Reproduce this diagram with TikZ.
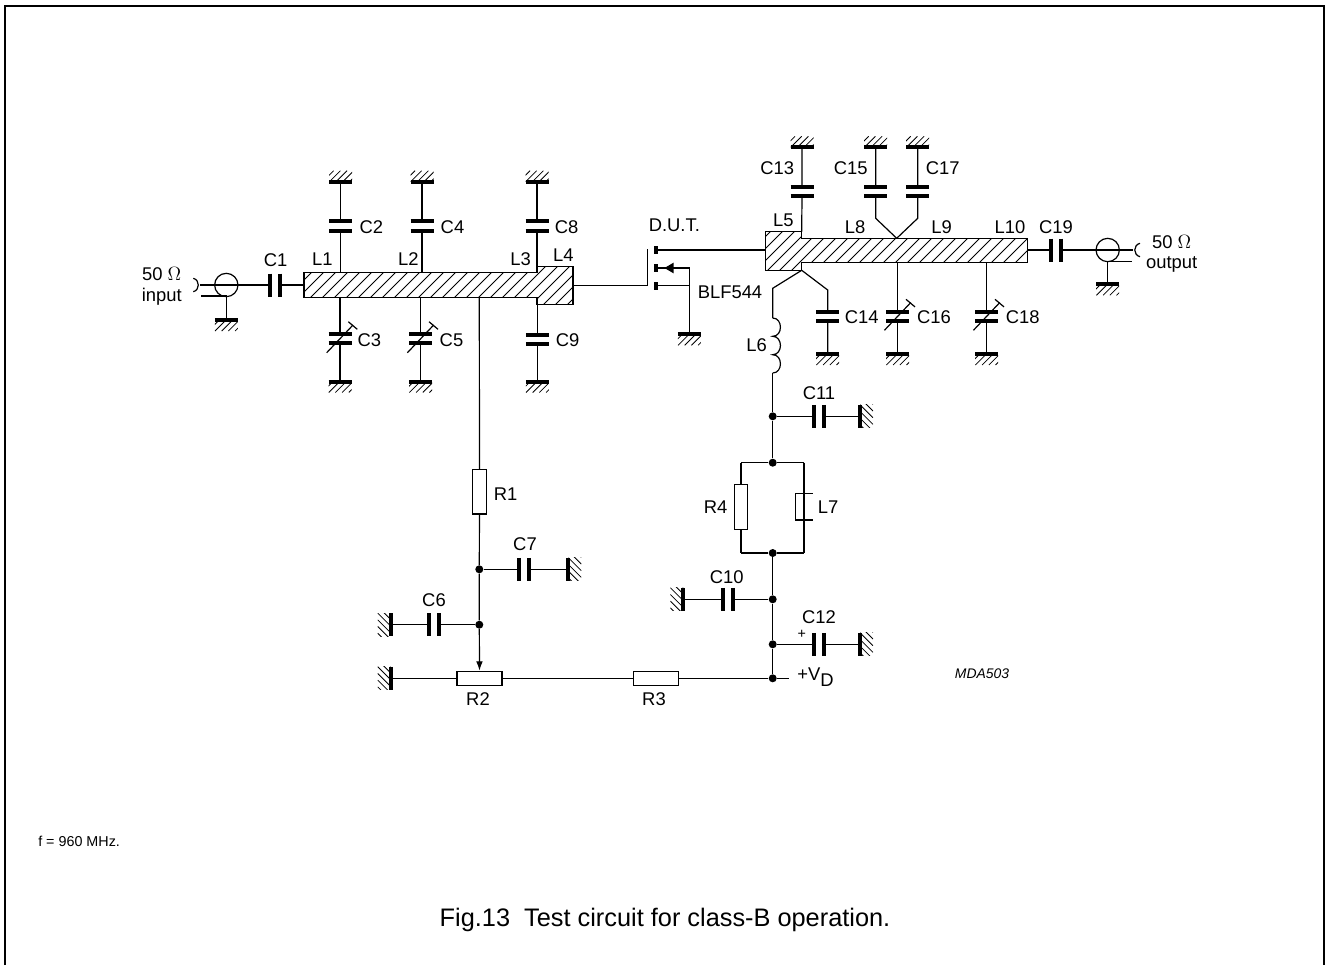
\documentclass[tikz,border=0pt]{standalone}
\usepackage{fontspec}
\setmainfont{Liberation Sans}
\usepackage{tikz}
\usetikzlibrary{arrows.meta}
\tikzset{
  wire/.style = {line width=.9pt},
  plate/.style = {line width=3pt},
  hatchline/.style = {line width=.6pt},
  dot/.style = {circle, fill, inner sep=0pt, minimum size=6pt},
  lbl/.style = {font=\fontsize{13.8}{15}\selectfont, inner sep=0pt},
  smalllbl/.style = {font=\fontsize{10.75}{13}\selectfont, inner sep=0pt}
}
% vertical capacitor: name, x, upper plate y, lower plate y
\newcommand{\capv}[4]{
  \coordinate (#1t) at (#2,#3);
  \coordinate (#1b) at (#2,#4);
  \draw[plate] (#2-11.5,#3) -- (#2+11.5,#3);
  \draw[plate] (#2-11.5,#4) -- (#2+11.5,#4);
}
% horizontal capacitor: name, y, left plate x, right plate x
\newcommand{\caph}[4]{
  \coordinate (#1l) at (#3,#2);
  \coordinate (#1r) at (#4,#2);
  \draw[plate] (#3,#2-11.5) -- (#3,#2+11.5);
  \draw[plate] (#4,#2-11.5) -- (#4,#2+11.5);
}
% trimmer mark over a vertical capacitor: x, y of its middle
\newcommand{\trim}[2]{
  \draw[wire] (#1-13.3,#2+14) -- (#1+13,#2-13.7);
  \draw[wire] (#1+8.3,#2-17) -- (#1+17.3,#2-9.4);
}
% earth symbols: name, x, y of the plate
\newcommand{\gndd}[3]{
  \coordinate (#1) at (#2,#3);
  \begin{scope}
    \clip (#2-11.5,#3) rectangle (#2+11.5,#3+11);
    \foreach \s in {-18,-11.3,...,12} \draw[hatchline] (#2+\s,#3+11) -- (#2+\s+11,#3);
  \end{scope}
  \draw[plate] (#2-11.5,#3) -- (#2+11.5,#3);
}
\newcommand{\gndu}[3]{
  \coordinate (#1) at (#2,#3);
  \begin{scope}
    \clip (#2-11.5,#3-11) rectangle (#2+11.5,#3);
    \foreach \s in {-18,-11.3,...,12} \draw[hatchline] (#2+\s,#3) -- (#2+\s+11,#3-11);
  \end{scope}
  \draw[plate] (#2-11.5,#3) -- (#2+11.5,#3);
}
\newcommand{\gndr}[3]{
  \coordinate (#1) at (#2,#3);
  \begin{scope}
    \clip (#2,#3-11.5) rectangle (#2+13,#3+11.5);
    \foreach \s in {-25,-18.3,...,12} \draw[hatchline] (#2,#3+\s) -- (#2+13,#3+\s+13);
  \end{scope}
  \draw[plate] (#2,#3-11.5) -- (#2,#3+11.5);
}
\newcommand{\gndl}[3]{
  \coordinate (#1) at (#2,#3);
  \begin{scope}
    \clip (#2-13,#3-11.5) rectangle (#2,#3+11.5);
    \foreach \s in {-25,-18.3,...,12} \draw[hatchline] (#2-13,#3+\s) -- (#2,#3+\s+13);
  \end{scope}
  \draw[plate] (#2,#3-11.5) -- (#2,#3+11.5);
}

\begin{document}
\begin{tikzpicture}[x=.75pt,y=-.75pt]
  \useasboundingbox (0,0) rectangle (1328,965);

  % frame
  \draw[line width=1.5pt] (5,965) -- (5,5.5) -- (1324,5.5) -- (1324,965);

  % input strip
  \begin{scope}
    \clip (304,272.7) -- (537,272.7) -- (537,266.7) -- (573,266.7) -- (573,304.7) -- (537,304.7) -- (537,297.7) -- (304,297.7) -- cycle;
    \foreach \s in {250,262,...,570} \draw[hatchline] (\s,310) -- (\s+50,260);
  \end{scope}
  \draw[wire] (304,272.7) -- (537,272.7) -- (537,266.7) -- (573,266.7) -- (573,304.7) -- (537,304.7) -- (537,297.7) -- (304,297.7) -- cycle;

  % output strip
  \begin{scope}
    \clip (765.3,231.7) -- (801.7,231.7) -- (801.7,238.3) -- (1027.3,238.3) -- (1027.3,262.7) -- (801.7,262.7) -- (801.7,270.3) -- (765.3,270.3) -- cycle;
    \foreach \s in {710,722,...,1030} \draw[hatchline] (\s,280) -- (\s+50,230);
  \end{scope}
  \draw[wire] (765.3,231.7) -- (801.7,231.7) -- (801.7,238.3) -- (1027.3,238.3) -- (1027.3,262.7) -- (801.7,262.7) -- (801.7,270.3) -- (765.3,270.3) -- cycle;

  % points on the strips
  \coordinate (s1t) at (340.7,272.7);
  \coordinate (s2t) at (422,272.7);
  \coordinate (s3t) at (537,266.7);
  \coordinate (s1b) at (340,297.7);
  \coordinate (s2b) at (420.7,297.7);
  \coordinate (s3b) at (479.3,297.7);
  \coordinate (s4b) at (537.3,304.7);
  \coordinate (s4r) at (573,285.7);
  \coordinate (s1l) at (304,285);
  \coordinate (s5l) at (765.3,250);
  \coordinate (s5t) at (801.7,231.7);
  \coordinate (s5b) at (801.7,270.3);
  \coordinate (s8t) at (896.7,238.3);
  \coordinate (s8b) at (897.7,262.7);
  \coordinate (s9b) at (986.7,262.7);
  \coordinate (s10r) at (1027.3,250);

  % input side
  \coordinate (conin) at (200,285);
  \node[draw, circle, wire, inner sep=0pt, minimum size=17.5pt] (cin) at (226.3,285) {};
  \coordinate (conin2) at (201,296);
  \coordinate (cin2) at (226.3,296);
  \draw[wire] (193.3,278.3) .. controls (200,280) and (200,290) .. (193.3,291.7);
  \gndd{gin}{226.3}{320}
  \caph{C1}{285}{270.3}{280}
  \draw[wire] (conin) -- (C1l);
  \draw[wire] (conin2) -- (cin2) -- (gin);
  \draw[wire] (C1r) -- (s1l);

  \capv{C2}{340.7}{221.3}{230.7}
  \gndu{g2}{340.7}{181.7}
  \draw[wire] (s1t) -- (C2b) (C2t) -- (g2);
  \capv{C4}{422}{221.3}{230.7}
  \gndu{g4}{422}{181.7}
  \draw[wire] (s2t) -- (C4b) (C4t) -- (g4);
  \capv{C8}{537}{221.3}{230.7}
  \gndu{g8}{537}{181.7}
  \draw[wire] (s3t) -- (C8b) (C8t) -- (g8);
  \capv{C3}{340}{334}{343.3}
  \trim{340}{338.7}
  \gndd{g3}{340}{381.5}
  \draw[wire] (s1b) -- (C3t) (C3b) -- (g3);
  \capv{C5}{420.7}{334}{343.3}
  \trim{420.7}{338.7}
  \gndd{g5}{420.7}{381.5}
  \draw[wire] (s2b) -- (C5t) (C5b) -- (g5);
  \capv{C9}{537.3}{334.5}{343.8}
  \gndd{g9}{537.3}{381.5}
  \draw[wire] (s4b) -- (C9t) (C9b) -- (g9);

  % gate bias
  \node[draw, wire, fill=white, minimum width=10.5pt, minimum height=33.4pt, inner sep=0pt] (R1) at (479.5,491.7) {};
  \node[dot] (n7) at (479.3,569.3) {};
  \node[dot] (n6) at (479.3,624.7) {};
  \node[draw, wire, fill=white, minimum width=33.7pt, minimum height=10.5pt, inner sep=0pt] (R2) at (479.5,678.3) {};
  \node[draw, wire, fill=white, minimum width=34pt, minimum height=10.5pt, inner sep=0pt] (R3) at (656,678.3) {};
  \draw[wire] (s3b) -- (R1) (R1) -- (n7) -- (n6);
  \draw[wire, -{Latex[length=7pt,width=5pt]}] (n6) -- (R2.north);
  \caph{C7}{569.3}{519.3}{529}
  \gndr{g7}{568.3}{569.3}
  \draw[wire] (n7) -- (C7l) (C7r) -- (g7);
  \caph{C6}{624.7}{429.3}{439}
  \gndl{g6}{390.7}{624.7}
  \draw[wire] (g6) -- (C6l) (C6r) -- (n6);
  \gndl{g2r}{390.7}{678.3}
  \draw[wire] (g2r) -- (R2) (R2) -- (R3);

  % transistor
  \coordinate (gate) at (647.3,285.7);
  \coordinate (gatet) at (647.3,249.3);
  \coordinate (chd) at (656,250);
  \coordinate (chm) at (656,268);
  \coordinate (chs) at (656,285.7);
  \coordinate (srcm) at (689.3,268);
  \coordinate (srcb) at (689.3,285.7);
  \draw[plate] (656,246) -- (656,254);
  \draw[plate] (656,264) -- (656,272);
  \draw[plate] (656,282) -- (656,290);
  \gndd{gfet}{689.3}{334.3}
  \draw[wire] (s4r) -- (gate) -- (gatet);
  \draw[wire] (chd) -- (s5l);
  \draw[wire] (chs) -- (srcb);
  \draw[wire] (chm) -- (srcm) -- (gfet);
  \fill (664.5,268) -- (673.5,262.7) -- (673.5,273.3) -- cycle;

  % output side
  \capv{C13}{802}{186.7}{195.7}
  \gndu{g13}{802}{147.3}
  \draw[wire] (s5t) -- (C13b) (C13t) -- (g13);
  \capv{C15}{875.7}{186.7}{195.7}
  \gndu{g15}{875.7}{147.3}
  \coordinate (b15) at (875.7,218.3);
  \draw[wire] (s8t) -- (b15) -- (C15b) (C15t) -- (g15);
  \capv{C17}{917.7}{186.7}{195.7}
  \gndu{g17}{917.7}{147.3}
  \coordinate (b17) at (917.7,218.3);
  \draw[wire] (s8t) -- (b17) -- (C17b) (C17t) -- (g17);
  \capv{C14}{827.7}{311.7}{321}
  \gndd{g14}{827.7}{354}
  \coordinate (b14) at (827.7,290);
  \draw[wire] (s5b) -- (b14) -- (C14t) (C14b) -- (g14);
  \capv{C16}{897.7}{311.7}{321}
  \trim{897.7}{316.3}
  \gndd{g16}{897.7}{354}
  \draw[wire] (s8b) -- (C16t) (C16b) -- (g16);
  \capv{C18}{986.7}{311.7}{321}
  \trim{986.7}{316.3}
  \gndd{g18}{986.7}{354}
  \draw[wire] (s9b) -- (C18t) (C18b) -- (g18);
  \caph{C19}{250}{1051.3}{1061}
  \node[draw, circle, wire, inner sep=0pt, minimum size=17.5pt] (cout) at (1107.7,250) {};
  \coordinate (conout) at (1133,250);
  \coordinate (conout2) at (1131.7,261.7);
  \coordinate (cout2) at (1107.7,261.7);
  \gndd{gout}{1107.7}{284.3}
  \draw[wire] (s10r) -- (C19l) (C19r) -- (conout);
  \draw[wire] (conout2) -- (cout2) -- (gout);
  \draw[wire] (1140,243.3) .. controls (1133,245) and (1133,255) .. (1140,256.7);

  % drain supply
  \coordinate (b6) at (772.7,288.3);
  \coordinate (l6t) at (772.7,318);
  \coordinate (l6b) at (772.7,373);
  \draw[wire] (s5b) -- (b6) -- (l6t);
  \draw[wire] (l6t) .. controls (783,318) and (783,336.3) .. (772.7,336.3)
    .. controls (783,336.3) and (783,354.7) .. (772.7,354.7)
    .. controls (783,354.7) and (783,373) .. (l6b);
  \node[dot] (n11) at (772.7,416.3) {};
  \node[dot] (ntop) at (772.7,462.7) {};
  \node[dot] (nbot) at (772.7,553) {};
  \node[dot] (n10) at (772.7,599.3) {};
  \node[dot] (n12) at (772.7,644.3) {};
  \node[dot] (nvd) at (772.7,678.3) {};
  \draw[wire] (l6b) -- (n11) -- (ntop);
  \draw[wire] (nbot) -- (n10) -- (n12) -- (nvd);
  \coordinate (vd) at (789.3,678.3);
  \draw[wire] (R3) -- (nvd) -- (vd);
  \caph{C11}{416.3}{814.3}{824}
  \gndr{g11}{860}{416.3}
  \draw[wire] (n11) -- (C11l) (C11r) -- (g11);
  \caph{C10}{599.3}{722.7}{732.5}
  \gndl{g10}{683.3}{599.3}
  \draw[wire] (g10) -- (C10l) (C10r) -- (n10);
  \caph{C12}{644.3}{814.3}{824}
  \gndr{g12}{860}{644.3}
  \draw[wire] (n12) -- (C12l) (C12r) -- (g12);

  % parallel branch
  \coordinate (ptl) at (741,462.7);
  \coordinate (ptr) at (804,462.7);
  \coordinate (pbl) at (741,553);
  \coordinate (pbr) at (804,553);
  \draw[wire] (ntop) -- (ptl) (ntop) -- (ptr) (nbot) -- (pbl) (nbot) -- (pbr);
  \node[draw, wire, fill=white, minimum width=10.3pt, minimum height=33.6pt, inner sep=0pt] (R4) at (741,506.7) {};
  \draw[wire] (ptl) -- (R4) (R4) -- (pbl);
  \draw[wire] (ptr) -- (pbr);
  \draw[wire] (812.7,493.3) -- (795.3,493.3) -- (795.3,520) -- (812.7,520);

  % labels
  \node[lbl] (in1) at (161.7,274) {50 $\Omega$};
  \node[lbl] (in2) at (161.7,297) {input};
  \node[lbl] (out1) at (1171.7,241.7) {50 $\Omega$};
  \node[lbl] (out2) at (1171.7,264.3) {output};
  \node[lbl] (lC1) at (275.7,260) {C1};
  \node[lbl] (lL1) at (322.3,259.3) {L1};
  \node[lbl] (lL2) at (408.3,259.3) {L2};
  \node[lbl] (lL3) at (520.7,259.3) {L3};
  \node[lbl] (lL4) at (563.3,255) {L4};
  \node[lbl] (lC2) at (371.3,226.7) {C2};
  \node[lbl] (lC4) at (452.5,226.7) {C4};
  \node[lbl] (lC8) at (566.7,226.7) {C8};
  \node[lbl] (lC3) at (369.3,340.3) {C3};
  \node[lbl] (lC5) at (451.5,340.3) {C5};
  \node[lbl] (lC9) at (567.7,340.3) {C9};
  \node[lbl] (lDUT) at (674.3,225) {D.U.T.};
  \node[lbl] (lBLF) at (730,292.3) {BLF544};
  \node[lbl] (lL5) at (783.3,220) {L5};
  \node[lbl] (lL8) at (855,226.7) {L8};
  \node[lbl] (lL9) at (941.7,226.7) {L9};
  \node[lbl] (lL10) at (1010,226.7) {L10};
  \node[lbl] (lC19) at (1056,226.7) {C19};
  \node[lbl] (lC13) at (777.3,168.3) {C13};
  \node[lbl] (lC15) at (850.7,168.3) {C15};
  \node[lbl] (lC17) at (942.7,168.3) {C17};
  \node[lbl] (lC14) at (861.7,317.3) {C14};
  \node[lbl] (lC16) at (934,317.3) {C16};
  \node[lbl] (lC18) at (1022.7,317.3) {C18};
  \node[lbl] (lL6) at (756.7,345) {L6};
  \node[lbl] (lC11) at (819,392.7) {C11};
  \node[lbl] (lR4) at (715.7,507.3) {R4};
  \node[lbl] (lL7) at (828,507.3) {L7};
  \node[lbl] (lR1) at (505.7,493.7) {R1};
  \node[lbl] (lC7) at (525,544) {C7};
  \node[lbl] (lC6) at (434,600) {C6};
  \node[lbl] (lC10) at (726.7,576.7) {C10};
  \node[lbl] (lC12) at (819,617) {C12};
  \node[smalllbl] (lplus) at (801.7,634) {+};
  \node[lbl] (lR2) at (478,699) {R2};
  \node[lbl] (lR3) at (654,699) {R3};
  \node[lbl, anchor=west] (lVD) at (797,677) {+V\raisebox{-.55ex}{D}};
  \node[font=\itshape\fontsize{10.45}{12}\selectfont, inner sep=0pt] (lMDA) at (982,674) {MDA503};
  \node[smalllbl, anchor=west] (lf) at (38,841) {f = 960 MHz.};
  \node[font=\fontsize{19}{22}\selectfont, inner sep=0pt] (lcap) at (665,920) {Fig.13\ \ Test circuit for class-B operation.};
\end{tikzpicture}
\end{document}
